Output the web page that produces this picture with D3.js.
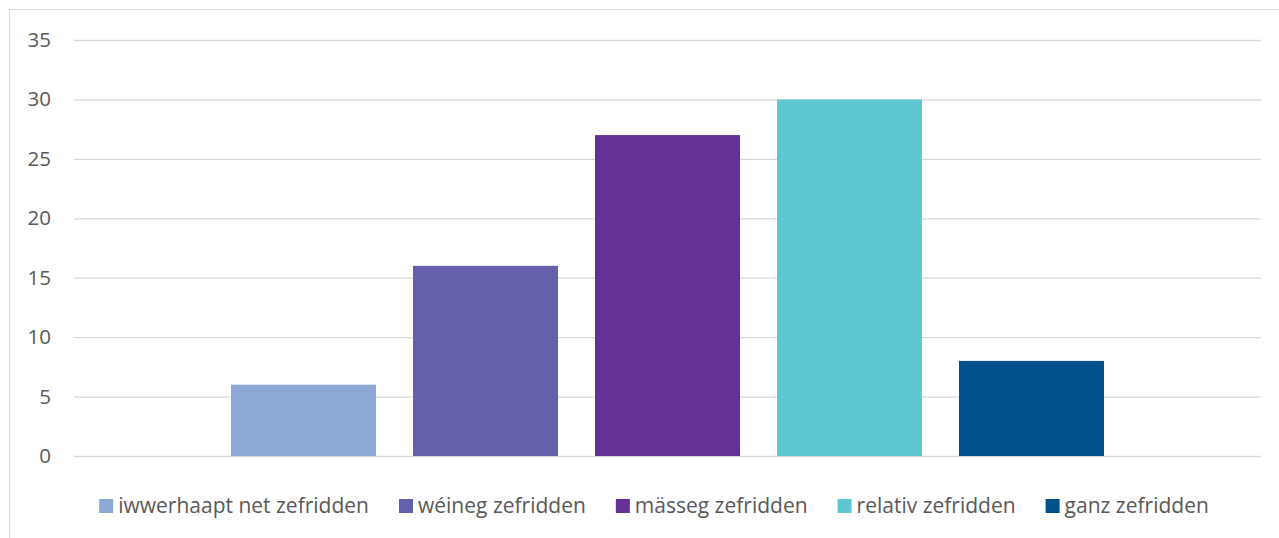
<!DOCTYPE html>
<html>
<head>
<meta charset="utf-8">
<script src="https://cdn.jsdelivr.net/npm/d3@7"></script>
<style>
  body { margin: 0; background: #fff; }
  svg { display: block; font-family: "Open Sans", Lato, sans-serif; }
</style>
</head>
<body>
<div id="chart"></div>
<script>
const series = ["iwwerhaapt net zefridden", "wéineg zefridden", "mässeg zefridden", "relativ zefridden", "ganz zefridden"];
const values = [6, 16, 27, 30, 8];
const colors = ["#8EA9D8", "#6560AC", "#663194", "#5FC7D1", "#01528A"];
const yTicks = [0, 5, 10, 15, 20, 25, 30, 35];

const width = 1279, height = 538;
const margin = { top: 40, right: 18, bottom: 82, left: 74 };

const svg = d3.select("#chart")
  .append("svg")
  .attr("width", width)
  .attr("height", height);

// chart frame
svg.append("rect")
  .attr("x", 9.5).attr("y", 9.5)
  .attr("width", 1300).attr("height", 600)
  .attr("fill", "none")
  .attr("stroke", "#d9d9d9");

const y = d3.scaleLinear()
  .domain([0, 35])
  .range([height - margin.bottom, margin.top]);

// one category holding five series
const plotX0 = margin.left, plotX1 = width - margin.right;
const plotW = plotX1 - plotX0;
const barW = 145, step = 182;
const x = d3.scaleBand()
  .domain(series)
  .range([plotX0 + plotW / 2 - step * 2.5, plotX0 + plotW / 2 + step * 2.5])
  .paddingInner((step - barW) / step)
  .paddingOuter((step - barW) / step / 2);

svg.append("g")
  .call(d3.axisLeft(y).tickValues(yTicks).tickSize(-plotW).tickPadding(23))
  .attr("transform", `translate(${plotX0},0)`)
  .call(g => g.select(".domain").remove())
  .call(g => g.selectAll(".tick line").attr("stroke", "#d9d9d9").attr("stroke-width", 1.3))
  .call(g => g.selectAll(".tick text").attr("fill", "#595959").attr("font-size", 20.5).attr("font-family", "'Open Sans', sans-serif"));

svg.append("g")
  .selectAll("rect")
  .data(series)
  .join("rect")
  .attr("x", d => x(d))
  .attr("width", x.bandwidth())
  .attr("y", (d, i) => y(values[i]))
  .attr("height", (d, i) => y(0) - y(values[i]))
  .attr("fill", (d, i) => colors[i]);

// legend
const legend = svg.append("g");
const items = legend.selectAll("g")
  .data(series)
  .join("g");
items.append("rect")
  .attr("width", 14).attr("height", 14)
  .attr("y", -7)
  .attr("fill", (d, i) => colors[i]);
items.append("text")
  .attr("x", 19)
  .attr("dy", "0.35em")
  .attr("fill", "#595959")
  .attr("font-size", 21)
  .text(d => d);

let cx = 0;
items.each(function () {
  const w = 19 + this.querySelector("text").getComputedTextLength();
  d3.select(this).attr("transform", `translate(${cx},0)`);
  cx += w + 30;
});
const total = cx - 30;
legend.attr("transform", `translate(${654 - total / 2},506)`);
</script>
</body>
</html>
